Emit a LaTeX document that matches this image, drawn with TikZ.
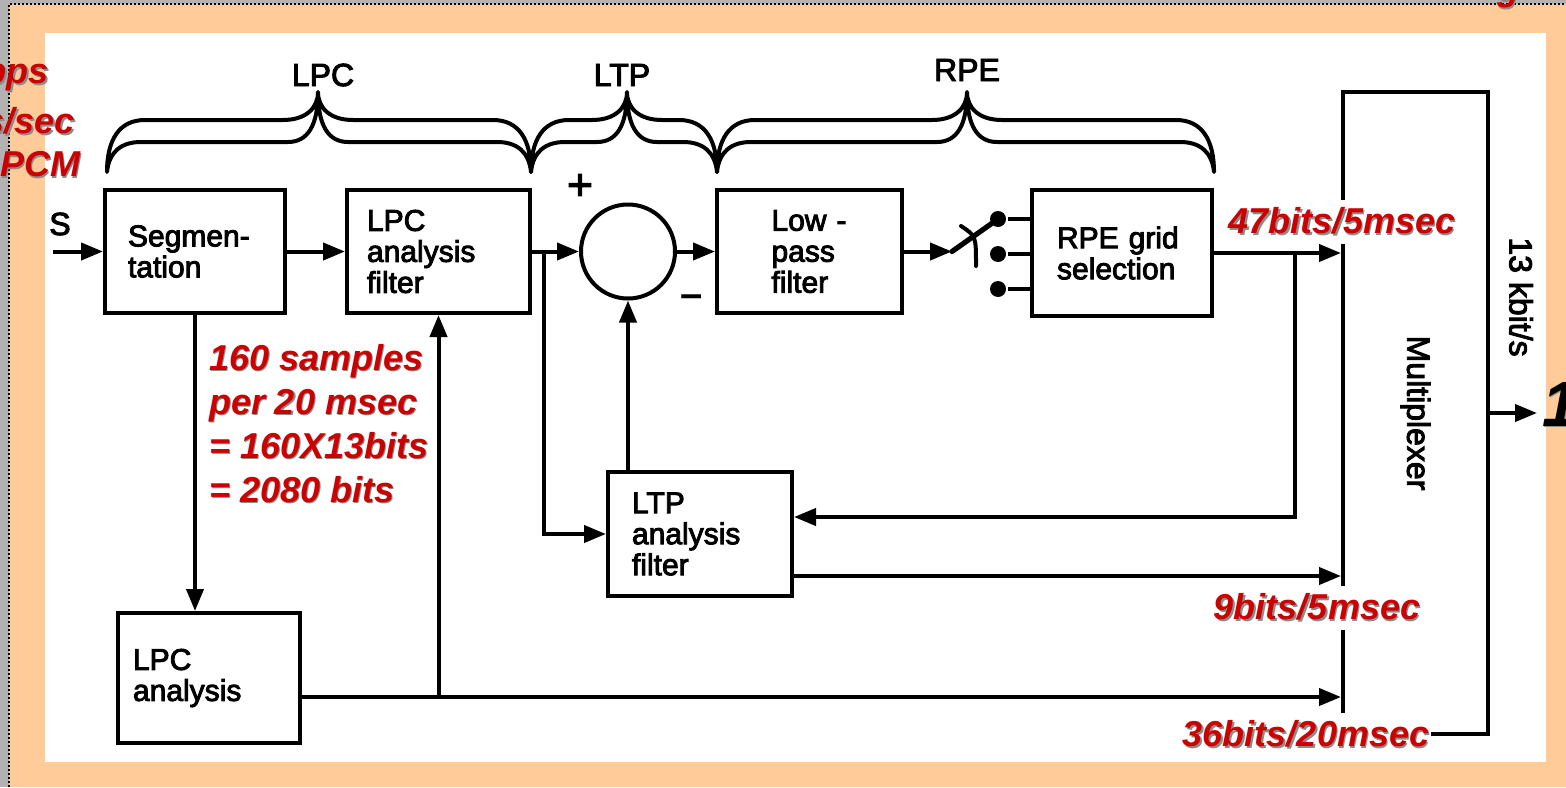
\documentclass[tikz,border=0pt]{standalone}
\usepackage{fontspec}
\setmainfont{Liberation Sans}
\setsansfont{Liberation Sans}
\newfontfamily\scanfont{Liberation Sans}[FakeBold=3]
\usetikzlibrary{arrows.meta, positioning, calc}
\definecolor{cpeach}{HTML}{FFCC99}
\definecolor{cframe}{HTML}{B2B2B2}
\definecolor{cred}{HTML}{CC0000}
\definecolor{cshadow}{HTML}{8C8C8C}
\newcommand{\shd}[1]{\leavevmode\rlap{\hspace{0.9pt}\raisebox{-0.9pt}{\textcolor{cshadow}{#1}}}#1}
% hollow brace: left end, tip, right end (x in px)
\newcommand{\hbrace}[3]{%
  \draw[brace] (#1,172) .. controls (#1,140) and (#1+12,120) .. (#1+38,120) -- (#2-35,120)
    .. controls (#2-12,120) and (#2,108) .. (#2,92)
    .. controls (#2,108) and (#2+12,120) .. (#2+35,120) -- (#3-38,120)
    .. controls (#3-12,120) and (#3,140) .. (#3,172)
    .. controls (#3-2,152) and (#3-14,142) .. (#3-34,142) -- (#2+30,142)
    .. controls (#2+10,142) and (#2,125) .. (#2,92)
    .. controls (#2,125) and (#2-10,142) .. (#2-30,142) -- (#1+34,142)
    .. controls (#1+14,142) and (#1+2,152) .. (#1,172) -- cycle;}
\tikzset{
  every picture/.style={font=\scanfont, line width=2pt},
  box/.style={draw, align=left, inner xsep=0pt, inner ysep=0pt, minimum height=61.5pt, font=\scanfont\fontsize{15}{15.5}\selectfont},
  arrow/.style={-{Triangle[length=11pt, width=8.5pt]}},
  brace/.style={draw, fill=white, line width=2pt, line join=round},
  dot/.style={circle, fill, inner sep=0pt, minimum size=8pt},
  title/.style={font=\scanfont\fontsize{16}{18}\selectfont},
  note/.style={font=\scanfont\fontsize{16}{18}\selectfont},
  rate/.style={font=\sffamily\bfseries\itshape\fontsize{18}{22}\selectfont, text=cred, inner sep=1pt},
  cover/.style={fill=white, inner ysep=4pt},
}

\begin{document}
\begin{tikzpicture}[x=0.5pt, y=-0.5pt]
  \useasboundingbox (0,0) rectangle (1566,787);
  % slide frame
  \fill[cframe] (0,0) rectangle (1566,787);
  \fill[cpeach] (9,4) rectangle (1566,787);
  \draw[line width=1pt, dash pattern=on 1pt off 1pt] (9,787) -- (9,4) -- (1566,4);
  \fill[white] (45,33) rectangle (1546,762);

  % braces
  \hbrace{107}{318}{531}
  \hbrace{531}{627}{717}
  \hbrace{717}{967}{1214}
  \node[title] (tlpc) at (323,75) {LPC};
  \node[title] (tltp) at (622,75) {LTP};
  \node[title] (trpe) at (967,70) {RPE};

  % blocks
  \node[box, minimum width=90pt, text width=67pt] (seg) at (195,251.5) {Segmen-\\tation};
  \node[box, minimum width=91.5pt, text width=71.5pt] (lpcf) at (438.5,251.5) {LPC\\analysis\\filter};
  \node[draw, circle, minimum size=47pt, inner sep=0pt] (sum) at (628,251.5) {};
  \node[box, minimum width=92.5pt, text width=38pt] (lpf) at (809.5,251.5) {Low~-\\pass\\filter};
  \node[box, minimum width=90pt, minimum height=63pt, text width=65pt] (rpe) at (1122,253) {RPE grid\\selection};
  \node[box, minimum width=92pt, minimum height=62pt, text width=68pt] (ltp) at (700,534) {LTP\\analysis\\filter};
  \node[box, minimum width=91pt, minimum height=65pt, text width=76pt] (lpca) at (209,678) {LPC\\analysis};
  \node[draw, minimum width=72.5pt, minimum height=321pt, inner sep=0pt] (mux) at (1415.5,413) {};
  \node[note, rotate=-90] (muxl) at (mux.center) {Multiplexer};
  \node[font=\scanfont\fontsize{22}{22}\selectfont] (plus) at (580,187) {+};
  \node[font=\sffamily\bfseries\fontsize{20}{20}\selectfont] (minus) at (692,301) {--};

  % switch
  \node[dot] (d1) at (998,219) {};
  \node[dot] (d2) at (998,254) {};
  \node[dot] (d3) at (998,289) {};
  \draw (d1) -- (d1 -| rpe.west);
  \draw (d2) -- (d2 -| rpe.west);
  \draw (d3) -- (d3 -| rpe.west);
  \coordinate (sw) at ($(lpf.east)+(48,0)$);
  \draw[line cap=round, line width=2.6pt] (sw) -- (d1.center);
  \draw[line cap=round] (961,226) .. controls (976,236) .. (976,266);

  % signal paths
  \coordinate (s0) at ($(seg.west)+(-50,0)$);
  \node[title] (sin) at (60,224) {S};
  \draw[arrow] (s0) -- (seg.west);
  \draw[arrow] (seg.east) -- (lpcf.west);
  \draw[arrow] (lpcf.east) -- (sum.west);
  \coordinate (j1) at ($(lpcf.east)+(12,0)$);
  \draw[arrow] (j1) |- (ltp.west);
  \draw[arrow] (sum.east) -- (lpf.west);
  \draw[arrow] (sum.south |- ltp.north) -- (sum.south);
  \draw[arrow] (lpf.east) -- (sw);
  \draw[arrow] (rpe.east) -- (rpe.east -| mux.west);
  \coordinate (j2) at ($(rpe.east)+(81,0)$);
  \draw[arrow] (j2) |- ($(ltp.east)+(0,-17)$);
  \coordinate (t9) at ($(ltp.east)+(0,42)$);
  \draw[arrow] (t9) -- (t9 -| mux.west);
  \draw[arrow] (seg.south) -- (seg.south |- lpca.north);
  \coordinate (bus) at ($(lpca.east)+(0,19)$);
  \draw[arrow] (bus) -- (bus -| mux.west);
  \draw[arrow] (bus -| lpcf.south) -- (lpcf.south);
  \coordinate (out) at ($(mux.east)+(47,0)$);
  \draw[arrow] (mux.east) -- (out);
  \node[note, rotate=-90] (kbit) at (1521,297) {13 kbit/s};

  % bit rates
  \node[rate, cover] (r47) at (1342,222) {\shd{47bits/5msec}};
  \node[rate, cover] (r9) at (1317,608) {\shd{9bits/5msec}};
  \node[rate, cover] (r36) at (1306,735) {\shd{36bits/20msec}};
  \node[rate, align=left, anchor=north west] (rseg) at (205,340) {\shd{160 samples}\\\shd{per 20 msec}\\\shd{= 160X13bits}\\\shd{= 2080 bits}};
  % text cut by the slide edge
  \node[rate, anchor=east] (rin1) at (53,75) {\shd{bps}};
  \node[rate, anchor=east] (rin2) at (79,122) {\shd{s/sec}};
  \node[rate, anchor=east] (rin3) at (84,165) {\shd{PCM}};
  \node[rate, anchor=base] (rtop) at (1508,1) {\shd{g}};
  \node[font=\sffamily\bfseries\itshape\fontsize{32}{32}\selectfont, inner sep=1pt, anchor=west] (rout) at (1538,405) {\shd{1}};
\end{tikzpicture}
\end{document}
